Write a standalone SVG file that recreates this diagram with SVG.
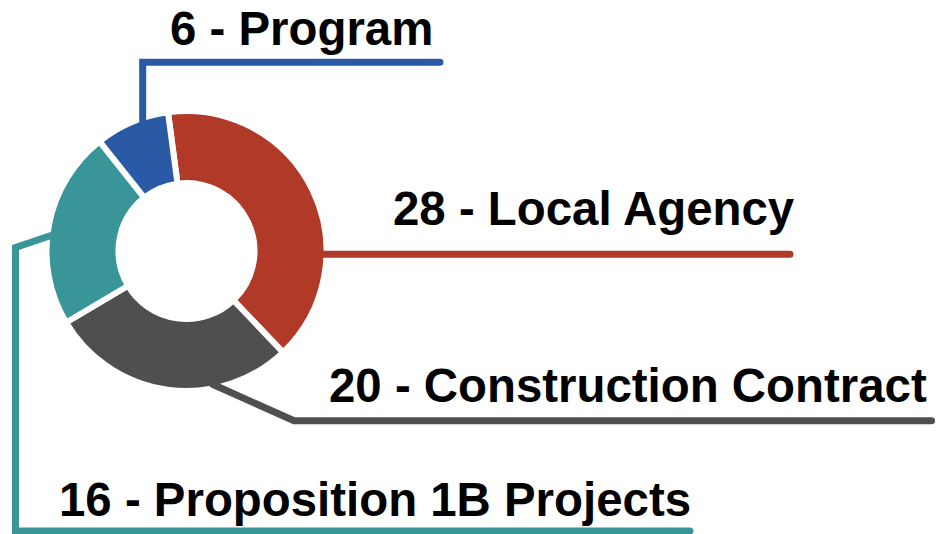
<svg xmlns="http://www.w3.org/2000/svg" width="936" height="534" viewBox="0 0 936 534">
<style>
.seg{stroke:#ffffff;stroke-width:6;stroke-linejoin:miter}
.lead{fill:none;stroke-width:7;stroke-linecap:round;stroke-linejoin:miter}
.lbl{font-family:"Liberation Sans",Arial,sans-serif;font-weight:bold;font-size:47.4px;fill:#000000}
</style>
<rect width="936" height="534" fill="#ffffff"/>
<g id="seg-local-agency">
<path class="seg" fill="#B03A27" d="M167.98 112.23 A140 140 0 0 1 283.05 352.38 L233.39 300.24 A68 68 0 0 0 177.51 183.60 Z"/>
</g>
<g id="seg-construction">
<path class="seg" fill="#4F4F4F" d="M283.05 352.38 A140 140 0 0 1 66.11 322.48 L128.02 285.72 A68 68 0 0 0 233.39 300.24 Z"/>
</g>
<g id="seg-prop1b">
<path class="seg" fill="#3A9599" d="M66.11 322.48 A140 140 0 0 1 99.54 141.28 L144.26 197.71 A68 68 0 0 0 128.02 285.72 Z"/>
</g>
<g id="seg-program">
<path class="seg" fill="#2A5AA6" d="M99.54 141.28 A140 140 0 0 1 167.98 112.23 L177.51 183.60 A68 68 0 0 0 144.26 197.71 Z"/>
</g>
<g id="connectors">
<path class="lead" stroke="#2A5AA6" d="M142.7 122 L142.7 62.3 L440 62.3"/>
<path class="lead" stroke="#B03A27" d="M321 254.3 L790 254.3"/>
<path class="lead" stroke="#4F4F4F" d="M213 384.5 L294 420.7 L931.5 420.7"/>
<path class="lead" stroke="#3A9599" stroke-linecap="butt" d="M51 235.5 L15.5 247.5 L15.5 531 L690 531"/>
</g>
<g id="label-program"><text class="lbl" x="170" y="45">6 - Program</text></g>
<g id="label-local-agency"><text class="lbl" x="393" y="225">28 - Local Agency</text></g>
<g id="label-construction"><text class="lbl" x="329" y="402">20 - Construction Contract</text></g>
<g id="label-prop1b"><text class="lbl" x="59" y="516">16 - Proposition 1B Projects</text></g>
</svg>
